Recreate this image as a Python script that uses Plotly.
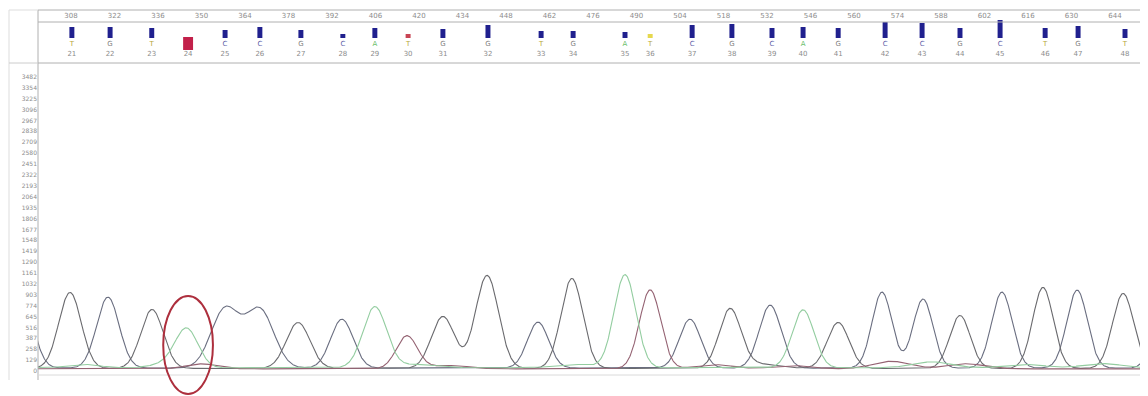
import numpy as np
import plotly.graph_objects as go

# ---------------- data ----------------
ruler_ticks = [308, 322, 336, 350, 364, 378, 392, 406, 420, 434, 448, 462, 476,
               490, 504, 518, 532, 546, 560, 574, 588, 602, 616, 630, 644]

base_num = list(range(21, 49))
base_letter = ["T", "G", "T", "", "C", "C", "G", "C", "A", "T", "G", "G", "T", "G",
               "A", "T", "C", "G", "C", "A", "G", "C", "C", "G", "C", "T", "G", "T"]
base_pos = [308.3, 320.6, 334.0, 345.7, 357.6, 368.8, 382.0, 395.5, 405.8, 416.5,
            427.7, 442.2, 459.3, 469.6, 486.3, 494.4, 507.9, 520.7, 533.6, 543.6,
            554.9, 570.0, 581.9, 594.1, 607.0, 621.5, 632.1, 647.2]
base_qual = [11, 11, 10, 13, 8, 11, 8, 4, 10, 4, 9, 13, 7, 7, 6, 4, 13, 14, 10, 11,
             10, 16, 15, 10, 18, 10, 12, 9]
base_flag = ["ok"] * 28
base_flag[3] = "hi"      # position 24 highlighted
base_flag[9] = "low"     # position 30
base_flag[15] = "weak"   # position 36

y_labels = [0, 129, 258, 387, 516, 645, 774, 903, 1032, 1161, 1290, 1419, 1548,
            1677, 1806, 1935, 2064, 2193, 2322, 2451, 2580, 2709, 2838, 2967, 3096,
            3225, 3354, 3482]

# trace peaks: position, height, channel, width
peak_pos = [292.2, 307.7, 319.9, 334.1, 345.3, 357.6, 368.8, 381.1, 395.2, 405.8,
            416.1, 427.7, 441.9, 458.3, 469.2, 486.3, 494.4, 507.2, 520.1, 533.0,
            543.6, 554.9, 569.0, 582.2, 594.1, 607.6, 620.8, 631.8, 646.6, 660.0,
            # small background bumps
            312.0, 340.0, 350.0, 430.0, 470.0, 515.0, 540.0, 572.0, 585.0,
            596.0, 615.0, 640.0, 420.0, 530.0]
peak_h = [840, 900, 841, 699, 438, 699, 687, 545, 580, 723,
          391, 616, 1102, 545, 1066, 1102, 936, 580, 699, 746,
          687, 545, 900, 818, 628, 900, 960, 924, 889, 720,
          40, 60, 60, 40, 40, 50, 40, 90, 70,
          60, 40, 50, 40, 50]
peak_ch = ["C", "G", "C", "G", "A", "C", "C", "G", "C", "A",
           "T", "G", "G", "C", "G", "A", "T", "C", "G", "C",
           "A", "G", "C", "C", "G", "C", "G", "C", "G", "C",
           "A", "A", "T", "T", "A", "T", "T", "T", "A",
           "T", "A", "A", "A", "G"]
peak_w = [3.6, 3.6, 3.6, 3.6, 3.6, 4.5, 4.5, 3.8, 3.6, 3.8,
          3.4, 3.7, 3.7, 3.4, 3.5, 3.5, 3.4, 3.4, 3.5, 3.5,
          3.5, 3.5, 3.2, 3.2, 3.3, 3.3, 3.3, 3.3, 3.4, 3.4,
          5, 5, 5, 6, 6, 6, 6, 6, 6, 6, 6, 6, 6, 6]
baseline = {"G": 30, "A": 38, "T": 25, "C": 34}

# highlighted region (ellipse) in data units
mark_x = [337.7, 353.7]
mark_y = [-272, 889]

# ---------------- styles / layout (page pixels) ----------------
ch_color = {"G": "#6a6a6e", "A": "#93cda0", "T": "#946272", "C": "#6a6e80"}
letter_color = {"T": "#b6a63a", "G": "#808080", "C": "#5a5aa6", "A": "#6cc06c", "": "#777"}
bar_color = {"ok": "#20208e", "hi": "#c2204a", "low": "#c84454", "weak": "#e6d84e"}
OFF = 8                      # page body margin
PW, PH = 1148, 396           # page size
W, H = PW - OFF, PH - OFF    # figure size
def fx(px): return (px - OFF) / W
def fy(py): return 1 - (py - OFF) / H
x0px = 38
xr = [297.4, 654.6]          # data range across page px 38 .. 1148
hdr_px = 64                  # header bottom (page px)
font = "DejaVu Sans"
txtc = "#8c8c8c"

fig = go.Figure()

# ---- traces ----
xs = np.linspace(xr[0] - 5, xr[1] + 5, 2400)
for ch in ["C", "G", "T", "A"]:
    ys = np.full_like(xs, baseline[ch], dtype=float)
    for p, h, c, w in zip(peak_pos, peak_h, peak_ch, peak_w):
        if c == ch:
            ys += h * np.exp(-((xs - p) ** 2) / (2 * w * w))
    fig.add_trace(go.Scatter(x=xs, y=ys, mode="lines", xaxis="x", yaxis="y",
                             line=dict(color=ch_color[ch], width=1.1),
                             hoverinfo="skip", showlegend=False))

# ---- header (y2 value = hdr_px - page px) ----
for flag in ["ok", "low", "weak"]:
    idx = [i for i, f in enumerate(base_flag) if f == flag]
    fig.add_trace(go.Bar(x=[base_pos[i] for i in idx], y=[base_qual[i] for i in idx],
                         base=hdr_px - 38, width=1.6, xaxis="x", yaxis="y2",
                         marker=dict(color=bar_color[flag], line=dict(width=0)),
                         hoverinfo="skip", showlegend=False))
idx = [i for i, f in enumerate(base_flag) if f == "hi"]
fig.add_trace(go.Bar(x=[base_pos[i] for i in idx], y=[base_qual[i] for i in idx],
                     base=hdr_px - 50, width=3.2, xaxis="x", yaxis="y2",
                     marker=dict(color=bar_color["hi"], line=dict(width=0)),
                     hoverinfo="skip", showlegend=False))

fig.add_trace(go.Scatter(x=base_pos, y=[hdr_px - 44] * len(base_pos), mode="text",
                         text=base_letter, xaxis="x", yaxis="y2",
                         textfont=dict(family=font, size=7,
                                       color=[letter_color[l] for l in base_letter]),
                         hoverinfo="skip", showlegend=False))
fig.add_trace(go.Scatter(x=base_pos, y=[hdr_px - 54] * len(base_pos), mode="text",
                         text=[str(n) for n in base_num], xaxis="x", yaxis="y2",
                         textfont=dict(family=font, size=7, color=txtc),
                         hoverinfo="skip", showlegend=False))
fig.add_trace(go.Scatter(x=ruler_ticks, y=[hdr_px - 16] * len(ruler_ticks), mode="text",
                         text=[str(t) for t in ruler_ticks], xaxis="x", yaxis="y2",
                         textfont=dict(family=font, size=7, color=txtc),
                         hoverinfo="skip", showlegend=False))

shapes = []
for py in [10, 22, 63]:
    shapes.append(dict(type="line", xref="paper", yref="paper",
                       x0=fx(x0px), x1=1, y0=fy(py), y1=fy(py),
                       line=dict(color="#b0b0b0", width=1)))
shapes.append(dict(type="line", xref="paper", yref="paper", x0=fx(x0px), x1=fx(x0px),
                   y0=fy(380), y1=fy(10), line=dict(color="#b0b0b0", width=1)))
shapes.append(dict(type="line", xref="paper", yref="paper", x0=fx(9), x1=fx(9),
                   y0=fy(380), y1=fy(10), line=dict(color="#dddddd", width=1)))
shapes.append(dict(type="line", xref="paper", yref="paper", x0=fx(9), x1=fx(x0px),
                   y0=fy(63), y1=fy(63), line=dict(color="#cccccc", width=1)))
shapes.append(dict(type="line", xref="paper", yref="paper", x0=fx(9), x1=fx(x0px),
                   y0=fy(10), y1=fy(10), line=dict(color="#dddddd", width=1)))
shapes.append(dict(type="line", xref="paper", yref="paper", x0=fx(x0px), x1=1,
                   y0=fy(375), y1=fy(375), line=dict(color="#dadada", width=1)))
shapes.append(dict(type="circle", xref="x", yref="y", x0=mark_x[0], x1=mark_x[1],
                   y0=mark_y[0], y1=mark_y[1], line=dict(color="#ad2f3d", width=2)))

# y axis: value 0 at page px 371, 3482 at page px 77; domain bottom at page px 396
scale = (371 - 77) / 3482.0
y_lo = -(PH - 371) / scale
y_hi = 3482 + (77 - hdr_px) / scale

fig.update_layout(
    width=W, height=H, margin=dict(l=0, r=0, t=0, b=0),
    paper_bgcolor="white", plot_bgcolor="white",
    barmode="overlay", showlegend=False, shapes=shapes,
    xaxis=dict(domain=[fx(x0px), 1], range=xr,
               showgrid=False, zeroline=False,
               showticklabels=False, showline=False, ticks=""),
    yaxis=dict(domain=[0, fy(hdr_px)], range=[y_lo, y_hi], showgrid=False,
               zeroline=False, showline=False, tickmode="array", tickvals=y_labels,
               ticktext=[str(v) for v in y_labels], ticks="", automargin=False,
               tickfont=dict(family=font, size=6, color=txtc)),
    yaxis2=dict(domain=[fy(hdr_px), 1], range=[0, hdr_px - OFF], showgrid=False,
                zeroline=False, showticklabels=False, showline=False, ticks=""),
)

fig.write_html("out.html")
